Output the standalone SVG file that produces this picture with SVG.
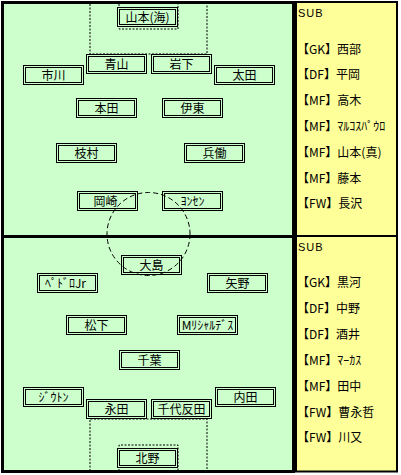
<svg xmlns="http://www.w3.org/2000/svg" width="401" height="475" viewBox="0 0 401 475">
<style>
.field{fill:#CCFFCC;stroke:#000;stroke-width:3}
.panel{fill:#FFFF99;stroke:#000;stroke-width:2}
.dot{fill:none;stroke:#000;stroke-width:1;stroke-dasharray:2 1.5}
.circ{fill:none;stroke:#000;stroke-width:1;stroke-dasharray:5 3}
.bo{fill:#CCFFCC;stroke:#000;stroke-width:1}
.bi{fill:none;stroke:#000;stroke-width:1}
.t{font-family:"Noto Sans CJK JP","Noto Sans",sans-serif;font-size:12px;fill:#000;text-anchor:middle}
.s{font-family:"Noto Sans CJK JP","Noto Sans",sans-serif;font-size:12px;fill:#000}
.sub{font-family:"Liberation Sans",sans-serif;font-size:11px;fill:#000;letter-spacing:1px}
</style>
<defs>
<g id="box"><rect class="bo" x="0.5" y="0.5" width="60" height="19"/><rect class="bi" x="2.5" y="2.5" width="56" height="15"/></g>
</defs>
<rect width="401" height="475" fill="#fff"/>
<g id="pitch">
<rect class="field" x="2.5" y="2.5" width="291" height="469"/>
<line x1="3" y1="236.5" x2="293" y2="236.5" stroke="#000" stroke-width="3"/>
<polyline class="dot" points="90,4 90,54 207,54 207,4"/>
<polyline class="dot" points="119,4 119,29 178,29 178,4"/>
<polyline class="dot" points="90,471 90,419 207,419 207,471"/>
<polyline class="dot" points="119,471 119,445 178,445 178,471"/>
</g>
<g id="sub-top">
<rect class="panel" x="296" y="2" width="101" height="234"/>
<text class="sub" x="298" y="17">SUB</text>
<text class="s" x="297" y="53.5">【GK】西部</text>
<text class="s" x="297" y="79.3">【DF】平岡</text>
<text class="s" x="297" y="105.1">【MF】高木</text>
<text class="s" x="297" y="130.9">【MF】ﾏﾙｺｽﾊﾟｳﾛ</text>
<text class="s" x="297" y="156.7">【MF】山本(真)</text>
<text class="s" x="297" y="182.5">【MF】藤本</text>
<text class="s" x="297" y="208.3">【FW】長沢</text>
</g>
<g id="sub-bottom">
<rect class="panel" x="296" y="236" width="101" height="235.5"/>
<text class="sub" x="298" y="251">SUB</text>
<text class="s" x="297" y="287">【GK】黒河</text>
<text class="s" x="297" y="312.9">【DF】中野</text>
<text class="s" x="297" y="338.8">【DF】酒井</text>
<text class="s" x="297" y="364.7">【MF】ﾏｰｶｽ</text>
<text class="s" x="297" y="390.6">【MF】田中</text>
<text class="s" x="297" y="416.5">【FW】曹永哲</text>
<text class="s" x="297" y="442.4">【FW】川又</text>
</g>
<g id="n-yamamoto-umi"><use href="#box" x="117" y="7"/><text class="t" x="147.5" y="21.5">山本(海)</text></g>
<g id="n-aoyama"><use href="#box" x="86" y="54"/><text class="t" x="116.5" y="68.5">青山</text></g>
<g id="n-iwashita"><use href="#box" x="151" y="54"/><text class="t" x="181.5" y="68.5">岩下</text></g>
<g id="n-ichikawa"><use href="#box" x="23" y="65"/><text class="t" x="53.5" y="79.5">市川</text></g>
<g id="n-ota"><use href="#box" x="214" y="65"/><text class="t" x="244.5" y="79.5">太田</text></g>
<g id="n-honda"><use href="#box" x="76" y="98"/><text class="t" x="106.5" y="112.5">本田</text></g>
<g id="n-ito"><use href="#box" x="162" y="98"/><text class="t" x="192.5" y="112.5">伊東</text></g>
<g id="n-edamura"><use href="#box" x="56" y="143"/><text class="t" x="86.5" y="157.5">枝村</text></g>
<g id="n-hyodo"><use href="#box" x="184" y="143"/><text class="t" x="214.5" y="157.5">兵働</text></g>
<g id="n-okazaki"><use href="#box" x="77" y="191"/><text class="t" x="105.5" y="205.5">岡崎</text></g>
<g id="n-jonsen"><use href="#box" x="162" y="191"/><text class="t" x="192.5" y="205.5">ﾖﾝｾﾝ</text></g>
<g id="n-oshima"><use href="#box" x="121" y="255"/><text class="t" x="151.5" y="269.5">大島</text></g>
<g id="n-pedro"><use href="#box" x="37" y="273"/><text class="t" x="65.5" y="287.5">ﾍﾟﾄﾞﾛJr</text></g>
<g id="n-yano"><use href="#box" x="207" y="273"/><text class="t" x="237.5" y="287.5">矢野</text></g>
<g id="n-matsushita"><use href="#box" x="66" y="315"/><text class="t" x="96.5" y="329.5">松下</text></g>
<g id="n-richardes"><use href="#box" x="177" y="315"/><text class="t" x="207.5" y="329.5">Mﾘｼｬﾙﾃﾞｽ</text></g>
<g id="n-chiba"><use href="#box" x="119" y="350"/><text class="t" x="149.5" y="364.5">千葉</text></g>
<g id="n-jiuton"><use href="#box" x="23" y="387"/><text class="t" x="53.5" y="401.5">ｼﾞｳﾄﾝ</text></g>
<g id="n-uchida"><use href="#box" x="215" y="387"/><text class="t" x="245.5" y="401.5">内田</text></g>
<g id="n-nagata"><use href="#box" x="86" y="399"/><text class="t" x="116.5" y="413.5">永田</text></g>
<g id="n-chiyotanda"><use href="#box" x="151" y="399"/><text class="t" x="181.5" y="413.5">千代反田</text></g>
<g id="n-kitano"><use href="#box" x="117" y="448"/><text class="t" x="147.5" y="462.5">北野</text></g>
<g id="center-circle"><circle class="circ" cx="148.5" cy="234" r="41.5"/></g>
</svg>
